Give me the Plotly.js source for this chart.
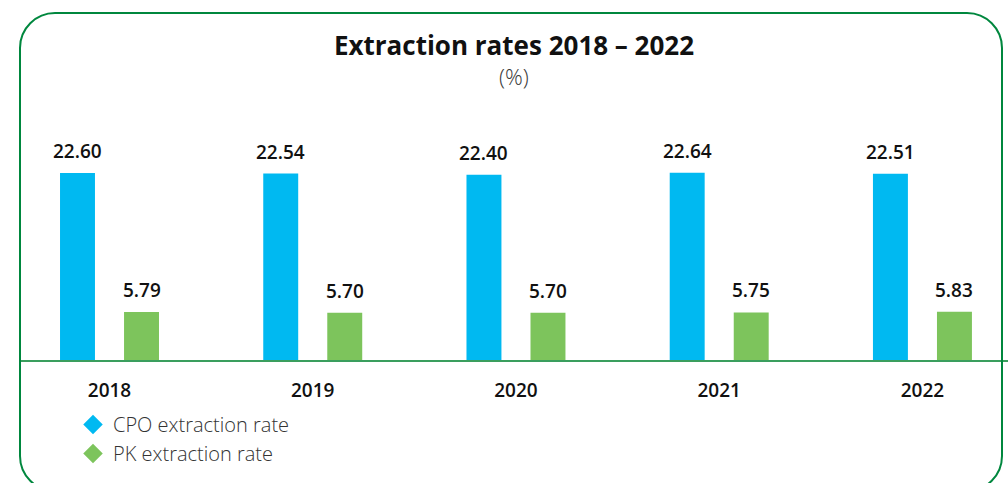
<!DOCTYPE html>
<html><head><meta charset="utf-8">
<script src="https://cdn.plot.ly/plotly-3.0.1.min.js"></script>
<style>
html,body{margin:0;padding:0;background:#fff;}
#wrap{position:relative;width:1008px;height:483px;overflow:hidden;}
#chart{width:1008px;height:483px;}
#frame{position:absolute;left:19px;top:12px;width:984px;height:480px;border:2.5px solid #00873e;border-radius:36px;pointer-events:none;box-sizing:border-box;}
</style></head>
<body><div id="wrap"><div id="chart"></div><div id="frame"></div></div>
<script>
const years = ['2018','2019','2020','2021','2022'];
const cpoRate = [22.60, 22.54, 22.40, 22.64, 22.51];
const pkRate = [5.79, 5.70, 5.70, 5.75, 5.83];
const cpoName = 'CPO extraction rate';
const pkName = 'PK extraction rate';
const cpoColor = '#00b9f1';
const pkColor = '#7dc45c';
const FONT = 'Open Sans, sans-serif';

const traces = [
  {type:'bar', x:years, y:cpoRate, marker:{color:cpoColor}, showlegend:false, hoverinfo:'skip'},
  {type:'bar', x:years, y:pkRate, marker:{color:pkColor}, showlegend:false, hoverinfo:'skip'},
  {type:'scatter', mode:'markers', x:[null], y:[null], name:cpoName, marker:{symbol:'diamond', size:15, color:cpoColor}},
  {type:'scatter', mode:'markers', x:[null], y:[null], name:pkName, marker:{symbol:'diamond', size:15, color:pkColor}}
];

const labelFont = {family:FONT, size:19, color:'#111', weight:600};
const annotations = [];
years.forEach((yr,i)=>{
  annotations.push({x:i, y:cpoRate[i], xref:'x', yref:'y', text:cpoRate[i].toFixed(2), showarrow:false, xshift:-32, yanchor:'bottom', yshift:7, font:labelFont});
  annotations.push({x:i, y:pkRate[i], xref:'x', yref:'y', text:pkRate[i].toFixed(2), showarrow:false, xshift:32, yanchor:'bottom', yshift:7, font:labelFont});
});
// subtitle, plot area spans y 100..360 px
annotations.push({xref:'paper', yref:'paper', x:0.5, y:(360-76)/260, yanchor:'middle', text:'(%)', showarrow:false, font:{family:FONT, size:22, color:'#3a3a3a', weight:300}});

const layout = {
  width:1008, height:483,
  margin:{l:20, r:0, t:100, b:123, pad:0},
  paper_bgcolor:'#fff', plot_bgcolor:'#fff',
  title:{text:'Extraction rates 2018 – 2022', xref:'paper', x:0.5, xanchor:'center', yref:'container', y:1-46/483, yanchor:'middle', font:{family:FONT, size:26, color:'#111', weight:700}},
  barmode:'group', bargap:0.37, bargroupgap:0.454,
  xaxis:{type:'category', range:[-0.4404, 4.421], showline:true, linecolor:'#3a9e5e', linewidth:1.5, ticks:'', ticklabelstandoff:13, tickfont:{family:FONT, size:19, color:'#111', weight:600}, showgrid:false, zeroline:false, fixedrange:true},
  yaxis:{range:[0, 31.44], visible:false, showgrid:false, zeroline:false, fixedrange:true},
  showlegend:true,
  legend:{x:(73-20)/988, xanchor:'left', yref:'container', y:1-405/483, yanchor:'top', bgcolor:'rgba(0,0,0,0)', font:{family:FONT, size:20, color:'#333', weight:300}, itemclick:false, itemdoubleclick:false},
  annotations:annotations
};
Plotly.newPlot('chart', traces, layout, {displayModeBar:false, staticPlot:true});
</script></body></html>
